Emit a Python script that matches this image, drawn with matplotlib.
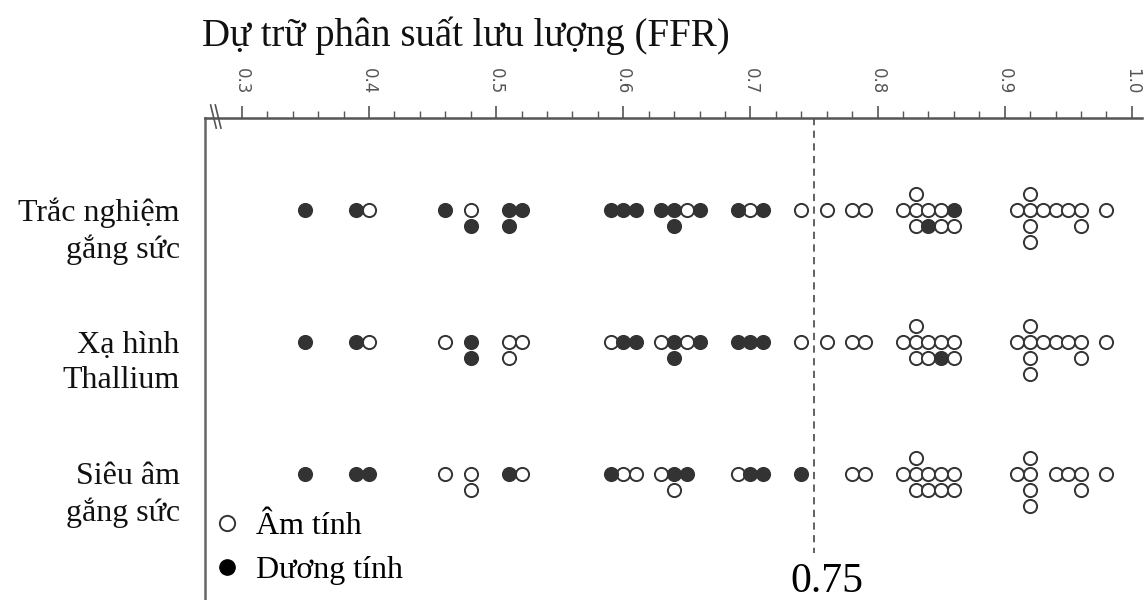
import matplotlib.pyplot as plt
from matplotlib.lines import Line2D
from matplotlib.transforms import blended_transform_factory
from collections import Counter

# Categorias (filas) del grafico
categorias = ['Trắc nghiệm\ngắng sức', 'Xạ hình\nThallium', 'Siêu âm\ngắng sức']

# Valores FFR; el orden dentro de un mismo valor da el apilado
ffr_gang_suc = [0.35, 0.39, 0.40, 0.46, 0.48, 0.48, 0.51, 0.51, 0.52, 0.59, 0.60, 0.61,
                0.63, 0.64, 0.64, 0.65, 0.66, 0.69, 0.70, 0.71, 0.74, 0.76, 0.78, 0.79,
                0.82, 0.83, 0.83, 0.83, 0.84, 0.84, 0.85, 0.85, 0.86, 0.86,
                0.91, 0.92, 0.92, 0.92, 0.92, 0.93, 0.94, 0.95, 0.96, 0.96, 0.98]
duong_gang_suc = [1, 1, 0, 1, 0, 1, 1, 1, 1, 1, 1, 1,
                  1, 1, 1, 0, 1, 1, 0, 1, 0, 0, 0, 0,
                  0, 0, 0, 0, 0, 1, 0, 0, 1, 0,
                  0, 0, 0, 0, 0, 0, 0, 0, 0, 0, 0]

ffr_thallium = [0.35, 0.39, 0.40, 0.46, 0.48, 0.48, 0.51, 0.51, 0.52, 0.59, 0.60, 0.61,
                0.63, 0.64, 0.64, 0.65, 0.66, 0.69, 0.70, 0.71, 0.74, 0.76, 0.78, 0.79,
                0.82, 0.83, 0.83, 0.83, 0.84, 0.84, 0.85, 0.85, 0.86, 0.86,
                0.91, 0.92, 0.92, 0.92, 0.92, 0.93, 0.94, 0.95, 0.96, 0.96, 0.98]
duong_thallium = [1, 1, 0, 0, 1, 1, 0, 0, 0, 0, 1, 1,
                  0, 1, 1, 0, 1, 1, 1, 1, 0, 0, 0, 0,
                  0, 0, 0, 0, 0, 0, 0, 1, 0, 0,
                  0, 0, 0, 0, 0, 0, 0, 0, 0, 0, 0]

ffr_sieu_am = [0.35, 0.39, 0.40, 0.46, 0.48, 0.48, 0.51, 0.52, 0.59, 0.60, 0.61,
               0.63, 0.64, 0.64, 0.65, 0.69, 0.70, 0.71, 0.74, 0.78, 0.79,
               0.82, 0.83, 0.83, 0.83, 0.84, 0.84, 0.85, 0.85, 0.86, 0.86,
               0.91, 0.92, 0.92, 0.92, 0.92, 0.94, 0.95, 0.96, 0.96, 0.98]
duong_sieu_am = [1, 1, 1, 0, 0, 0, 1, 0, 1, 0, 0,
                 0, 1, 0, 1, 0, 1, 1, 1, 0, 0,
                 0, 0, 0, 0, 0, 0, 0, 0, 0, 0,
                 0, 0, 0, 0, 0, 0, 0, 0, 0, 0]

ticks_x = [0.3, 0.4, 0.5, 0.6, 0.7, 0.8, 0.9, 1.0]
umbral = 0.75

filas = [(ffr_gang_suc, duong_gang_suc), (ffr_thallium, duong_thallium), (ffr_sieu_am, duong_sieu_am)]

GRIS = '#333333'
SERIF = 'Liberation Serif'


def apilar(valores):
    # el primer punto va en la fila, luego debajo, arriba, y mas abajo
    orden = [0, 1, -1, 2, -2, 3]
    vistos = Counter()
    niveles = []
    for v in valores:
        niveles.append(orden[vistos[v]])
        vistos[v] += 1
    return niveles


fig = plt.figure(figsize=(11.44, 6), dpi=100)
ax = fig.add_axes([205 / 1144, 0.0, 937 / 1144, 482 / 600])

paso = 0.12
for i, (valores, duong) in enumerate(filas):
    niveles = apilar(valores)
    ys = [i + n * paso for n in niveles]
    x_am = [v for v, d in zip(valores, duong) if d == 0]
    y_am = [y for y, d in zip(ys, duong) if d == 0]
    x_duong = [v for v, d in zip(valores, duong) if d == 1]
    y_duong = [y for y, d in zip(ys, duong) if d == 1]
    ax.scatter(x_am, y_am, s=90, facecolors='white', edgecolors=GRIS, linewidths=1.4, zorder=3)
    ax.scatter(x_duong, y_duong, s=90, facecolors=GRIS, edgecolors=GRIS, linewidths=1.4, zorder=3)

ax.set_xlim(0.271, 1.008)
ax.set_ylim(2.955, -0.697)

# linea de corte en 0.75
ax.plot([umbral, umbral], [-0.697, 2.6], color='#555555', lw=1.3, dashes=(4, 3), zorder=1)
ax.text(0.7315, 2.895, '0.75', fontsize=30, family=SERIF, ha='left', va='baseline')

# eje arriba
ax.xaxis.tick_top()
ax.set_xticks(ticks_x)
ax.set_xticklabels([f'{t:.1f}' for t in ticks_x], rotation=-90, fontsize=12,
                   family='DejaVu Sans', color='#555555')
ax.set_xticks([0.32 + 0.02 * k for k in range(35) if round((0.32 + 0.02 * k) * 100) % 10 != 0],
              minor=True)
ax.tick_params(axis='x', which='major', direction='out', length=9, width=1.2, color='#555555', pad=8)
ax.tick_params(axis='x', which='minor', direction='out', length=5, width=1.0, color='#555555')
ax.set_yticks([])

for lado in ['right', 'bottom']:
    ax.spines[lado].set_visible(False)
ax.spines['top'].set_color('#555555')
ax.spines['top'].set_linewidth(1.8)
ax.spines['left'].set_color('#666666')
ax.spines['left'].set_linewidth(1.8)

# marca de corte del eje
ax.plot([0.006, 0.012], [1.027, 0.979], transform=ax.transAxes, color='#555555', lw=1.2, clip_on=False)
ax.plot([0.011, 0.017], [1.027, 0.979], transform=ax.transAxes, color='#555555', lw=1.2, clip_on=False)

# etiquetas de filas
trans = blended_transform_factory(ax.transAxes, ax.transData)
for i, nombre in enumerate(categorias):
    ax.text(-0.027, i + 0.16, nombre, transform=trans, ha='right', va='center',
            fontsize=23, family=SERIF, linespacing=1.3, color='#111111')

# leyenda
manejadores = [Line2D([], [], marker='o', ls='', markersize=11, markerfacecolor='white',
                      markeredgecolor=GRIS, markeredgewidth=1.4),
               Line2D([], [], marker='o', ls='', markersize=11, markerfacecolor='black',
                      markeredgecolor='black')]
ax.legend(manejadores, ['Âm tính', 'Dương tính'], loc='lower left', bbox_to_anchor=(0.0, 0.018),
          frameon=False, prop={'family': SERIF, 'size': 23}, handlelength=1.0,
          handletextpad=0.4, labelspacing=0.45, borderpad=0.1, borderaxespad=0.1)

fig.text(202 / 1144, 1 - 36 / 600, 'Dự trữ phân suất lưu lượng (FFR)', fontsize=28,
         family=SERIF, ha='left', va='center', color='#111111')

plt.savefig('out.png', dpi=100)
